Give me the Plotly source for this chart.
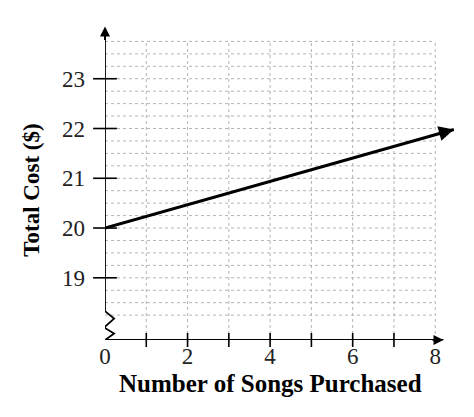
import plotly.graph_objects as go

# data
songs = [0, 8.45]
total_cost = [20, 21.98]

x_tick_vals = [0, 1, 2, 3, 4, 5, 6, 7, 8]
x_tick_text = ["0", "", "2", "", "4", "", "6", "", "8"]
y_tick_vals = [19, 20, 21, 22, 23]
y_tick_text = ["19", "20", "21", "22", "23"]

grid_x = [1, 2, 3, 4, 5, 6, 7, 8]
grid_y = [18.25 + 0.25 * i for i in range(23)]

# y-axis with the break (zigzag) near the bottom
yaxis_x = [0, 0, 0.22, -0.02, 0.22, 0]
yaxis_y = [24.0, 18.33, 18.18, 18.0, 17.88, 17.75]

X_MIN, X_MAX = 0, 8.6
Y_MIN, Y_MAX = 17.75, 24.1
X_AXIS_END = 8.2

SERIF = "Liberation Serif, Times New Roman, serif"
GRID = dict(color="#b4b4b4", width=1, dash="dot")

fig = go.Figure()

# dotted grid
shapes = []
for gx in grid_x:
    shapes.append(dict(type="line", xref="x", yref="y", x0=gx, x1=gx, y0=Y_MIN, y1=23.75,
                       line=GRID, layer="below"))
for gy in grid_y:
    shapes.append(dict(type="line", xref="x", yref="y", x0=0, x1=8, y0=gy, y1=gy,
                       line=GRID, layer="below"))

# axes lines
fig.add_trace(go.Scatter(x=[0, X_AXIS_END], y=[Y_MIN, Y_MIN], mode="lines",
                         line=dict(color="black", width=1.8), cliponaxis=False,
                         hoverinfo="skip", showlegend=False))
fig.add_trace(go.Scatter(x=yaxis_x, y=yaxis_y, mode="lines",
                         line=dict(color="black", width=1.8), cliponaxis=False,
                         hoverinfo="skip", showlegend=False))

# tick marks crossing the axes
fig.add_trace(go.Scatter(x=grid_x[:-1], y=[Y_MIN] * 7, mode="markers",
                         marker=dict(symbol="line-ns-open", size=10, color="black",
                                     line=dict(color="black", width=1.6)),
                         cliponaxis=False, hoverinfo="skip", showlegend=False))
fig.add_trace(go.Scatter(x=[0] * len(y_tick_vals), y=y_tick_vals, mode="markers",
                         marker=dict(symbol="line-ew-open", size=17, color="black",
                                     line=dict(color="black", width=1.6)),
                         cliponaxis=False, hoverinfo="skip", showlegend=False))

# cost line
fig.add_trace(go.Scatter(x=songs, y=total_cost, mode="lines",
                         line=dict(color="black", width=3), cliponaxis=False,
                         hoverinfo="skip", showlegend=False))

arrow = dict(text="", showarrow=True, arrowhead=2, arrowsize=1, arrowwidth=2,
             arrowcolor="black", xref="x", yref="y", axref="x", ayref="y", standoff=0)
annotations = [
    dict(arrow, x=X_AXIS_END, y=Y_MIN, ax=X_AXIS_END - 0.3, ay=Y_MIN),
    dict(arrow, x=0, y=24.05, ax=0, ay=23.75),
    dict(arrow, x=songs[1], y=total_cost[1], ax=songs[1] - 0.4,
         ay=total_cost[1] - 0.4 * (total_cost[1] - total_cost[0]) / (songs[1] - songs[0]),
         arrowwidth=3),
    dict(text="<b>Number of Songs Purchased</b>", showarrow=False, xref="x", yref="paper",
         x=4, y=0, yanchor="top", yshift=-28, font=dict(family=SERIF, size=25, color="black")),
    dict(text="<b>Total Cost ($)</b>", showarrow=False, xref="paper", yref="y",
         x=0, y=20.76, xanchor="right", xshift=-59, textangle=-90,
         font=dict(family=SERIF, size=23, color="black")),
]

fig.update_layout(
    width=474,
    height=417,
    margin=dict(l=97, r=22, t=16, b=85),
    plot_bgcolor="white",
    paper_bgcolor="white",
    shapes=shapes,
    annotations=annotations,
    showlegend=False,
)
fig.update_xaxes(range=[X_MIN, X_MAX], tickvals=x_tick_vals, ticktext=x_tick_text,
                 showgrid=False, zeroline=False, showline=False, ticks="",
                 ticklabelstandoff=0, tickfont=dict(family=SERIF, size=23, color="#222"))
fig.update_yaxes(range=[Y_MIN, Y_MAX], tickvals=y_tick_vals, ticktext=y_tick_text,
                 showgrid=False, zeroline=False, showline=False, ticks="",
                 ticklabelstandoff=19, tickfont=dict(family=SERIF, size=23, color="#222"))

fig.write_html("out.html")
